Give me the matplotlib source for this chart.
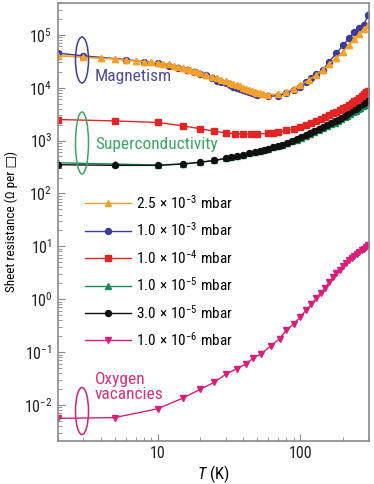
import numpy as np
import matplotlib
matplotlib.use('Agg')
import matplotlib.pyplot as plt
from matplotlib import font_manager
from matplotlib.patches import Ellipse
from matplotlib.ticker import LogLocator, NullFormatter, FixedLocator

# 2.5e-3 mbar
T_orange = [2, 3, 4, 5, 6, 7, 8, 9, 10, 11, 12, 13, 14, 15, 16, 17, 18, 19, 20, 22, 24, 26, 28, 30,
            32, 34, 36, 38, 40, 42, 44, 46, 48, 50, 52, 55, 60, 70, 80, 90, 100, 115, 130, 145,
            160, 180, 200, 220, 240, 260, 280, 300]
R_orange = [4.0e4, 3.8e4, 3.6e4, 3.5e4, 3.3e4, 3.2e4, 3.1e4, 3.0e4, 2.95e4, 2.85e4, 2.75e4, 2.6e4,
            2.5e4, 2.35e4, 2.25e4, 2.15e4, 2.05e4, 1.95e4, 1.9e4, 1.75e4, 1.6e4, 1.5e4, 1.4e4, 1.32e4,
            1.25e4, 1.18e4, 1.12e4, 1.06e4, 1.0e4, 9.5e3, 9.0e3, 8.6e3, 8.3e3, 8.0e3, 7.8e3, 7.6e3,
            7.4e3, 7.5e3, 8.2e3, 9.5e3, 1.1e4, 1.4e4, 1.75e4, 2.2e4, 2.8e4, 3.7e4, 4.8e4, 6.5e4,
            8.2e4, 1.05e5, 1.3e5, 1.55e5]

# 1.0e-3 mbar
T_blue = [2, 3, 6, 8, 10, 12, 14, 16, 18, 20, 22, 24, 26, 28, 30, 32, 34, 36, 38, 40, 42, 44, 46,
          48, 50, 60, 70, 80, 90, 100, 110, 120, 130, 145, 160, 180, 200, 220, 240, 260, 280, 300]
R_blue = [4.5e4, 4.0e4, 3.4e4, 3.1e4, 2.9e4, 2.6e4, 2.4e4, 2.2e4, 2.0e4, 1.85e4, 1.7e4, 1.5e4,
          1.35e4, 1.28e4, 1.2e4, 1.12e4, 1.05e4, 1.0e4, 9.5e3, 9.0e3, 8.6e3, 8.2e3, 7.9e3, 7.6e3,
          7.4e3, 6.9e3, 7.0e3, 7.9e3, 9.0e3, 1.05e4, 1.3e4, 1.55e4, 1.8e4, 2.2e4, 3.1e4, 4.5e4,
          6.3e4, 8.5e4, 1.15e5, 1.35e5, 1.55e5, 2.4e5]

# 1.0e-4 mbar
T_red = [2, 5, 10, 15, 20, 25, 30, 35, 40, 45, 50, 60, 65, 70, 80, 90, 100, 110, 120, 130, 140,
         150, 160, 170, 180, 190, 200, 210, 220, 230, 240, 250, 260, 270, 280, 290, 300]
R_red = [2.5e3, 2.35e3, 2.2e3, 1.9e3, 1.67e3, 1.5e3, 1.4e3, 1.35e3, 1.33e3, 1.32e3, 1.32e3, 1.38e3,
         1.4e3, 1.45e3, 1.55e3, 1.65e3, 1.8e3, 1.95e3, 2.15e3, 2.35e3, 2.55e3, 2.75e3, 3.0e3,
         3.25e3, 3.5e3, 3.8e3, 4.1e3, 4.4e3, 4.8e3, 5.1e3, 5.5e3, 5.9e3, 6.4e3, 6.9e3, 7.5e3,
         8.1e3, 8.8e3]

# 1.0e-5 mbar and 3.0e-5 mbar
T_low = [2, 5, 10, 15, 20, 25, 30, 33, 36, 40, 44, 48, 52, 56, 60, 65, 70, 75, 81, 88, 95, 102,
         110, 118, 126, 135, 145, 155, 165, 175, 185, 195, 205, 215, 225, 235, 245, 255, 265, 275,
         285, 295, 300]
R_green = [3.8e2, 3.6e2, 3.45e2, 3.6e2, 3.9e2, 4.2e2, 4.6e2, 4.8e2, 5.0e2, 5.4e2, 5.8e2, 6.1e2,
           6.4e2, 6.7e2, 7.0e2, 7.4e2, 7.9e2, 8.4e2, 9.0e2, 9.7e2, 1.04e3, 1.12e3, 1.23e3, 1.35e3,
           1.46e3, 1.58e3, 1.72e3, 1.87e3, 2.03e3, 2.17e3, 2.35e3, 2.52e3, 2.75e3, 2.95e3, 3.15e3,
           3.4e3, 3.65e3, 3.9e3, 4.15e3, 4.45e3, 4.75e3, 5.1e3, 5.3e3]
R_black = [3.5e2, 3.4e2, 3.4e2, 3.6e2, 3.9e2, 4.2e2, 4.6e2, 4.8e2, 5.0e2, 5.4e2, 5.8e2, 6.1e2,
           6.4e2, 6.7e2, 7.0e2, 7.4e2, 7.9e2, 8.4e2, 9.0e2, 9.8e2, 1.06e3, 1.15e3, 1.27e3, 1.4e3,
           1.52e3, 1.65e3, 1.8e3, 1.97e3, 2.15e3, 2.3e3, 2.5e3, 2.7e3, 2.95e3, 3.2e3, 3.45e3,
           3.7e3, 4.0e3, 4.3e3, 4.6e3, 4.95e3, 5.3e3, 5.7e3, 5.9e3]

# 1.0e-6 mbar
T_mag = [2, 5, 10, 15, 20, 25, 30, 36, 42, 47, 53, 62, 72, 80, 90, 100, 110, 120, 130, 140, 150,
         160, 170, 180, 190, 200, 210, 220, 230, 240, 250, 260, 270, 280, 290, 300]
R_mag = [5.6e-3, 5.8e-3, 8.5e-3, 1.35e-2, 2.0e-2, 2.7e-2, 3.8e-2, 4.9e-2, 6.0e-2, 7.8e-2, 9.2e-2,
         0.13, 0.18, 0.26, 0.34, 0.46, 0.62, 0.8, 1.05, 1.3, 1.65, 2.1, 2.6, 3.1, 3.6, 4.2, 4.8,
         5.5, 6.1, 6.7, 7.3, 7.9, 8.5, 9.1, 9.7, 10.5]

labels = [r'2.5$\,\times\,$10$^{-3}$ mbar', r'1.0$\,\times\,$10$^{-3}$ mbar',
          r'1.0$\,\times\,$10$^{-4}$ mbar', r'1.0$\,\times\,$10$^{-5}$ mbar',
          r'3.0$\,\times\,$10$^{-5}$ mbar', r'1.0$\,\times\,$10$^{-6}$ mbar']

c_orange = '#f5a02a'
c_blue = '#3b3b98'
c_red = '#e32424'
c_green = '#188a55'
c_black = '#111111'
c_mag = '#d81e78'

# condensed sans like the original, with fallbacks
installed = set(f.name for f in font_manager.fontManager.ttflist)
font = next((n for n in ['Roboto Condensed', 'PT Sans Narrow', 'Archivo Narrow', 'Liberation Sans']
             if n in installed), 'DejaVu Sans')
plt.rcParams['font.family'] = [font, 'DejaVu Sans']
plt.rcParams['mathtext.fontset'] = 'custom'
plt.rcParams['mathtext.rm'] = font
plt.rcParams['mathtext.it'] = font + ':italic'

fig = plt.figure(figsize=(3.74, 4.84), dpi=100)
ax = fig.add_axes([0.155, 0.089, 0.832, 0.905])

ms = 4.3
h_or, = ax.plot(T_orange, R_orange, '-^', color=c_orange, ms=ms, lw=1)
h_bl, = ax.plot(T_blue, R_blue, '-o', color=c_blue, ms=ms, lw=1)
h_gr, = ax.plot(T_low, R_green, '-^', color=c_green, ms=ms, lw=1)
h_bk, = ax.plot(T_low, R_black, '-o', color=c_black, ms=ms, lw=1)
h_rd, = ax.plot(T_red, R_red, '-s', color=c_red, ms=ms, lw=1)
h_mg, = ax.plot(T_mag, R_mag, '-v', color=c_mag, ms=ms, lw=1)
# orange drawn again so it sits over blue like in the original
ax.plot(T_orange, R_orange, '-^', color=c_orange, ms=ms, lw=1, zorder=2.5)

ax.set_xscale('log')
ax.set_yscale('log')
ax.set_xlim(2, 305)
ax.set_ylim(2.1e-3, 4e5)

ax.xaxis.set_major_locator(FixedLocator([10, 100]))
ax.set_xticklabels(['10', '100'])
ax.xaxis.set_minor_locator(LogLocator(base=10, subs=np.arange(2, 10)))
ax.xaxis.set_minor_formatter(NullFormatter())
ax.yaxis.set_major_locator(FixedLocator([1e-2, 1e-1, 1, 1e1, 1e2, 1e3, 1e4, 1e5]))
ax.yaxis.set_minor_locator(LogLocator(base=10, subs=np.arange(2, 10), numticks=20))
ax.yaxis.set_minor_formatter(NullFormatter())
ax.tick_params(which='both', direction='in', top=False, right=False, labelsize=11.5,
               labelcolor='#222222')
ax.tick_params(which='major', length=5, color='#888888', pad=4)
ax.tick_params(which='minor', length=3, color='#888888')
for s in ax.spines.values():
    s.set_color('#8a8a8a')
    s.set_linewidth(1.2)

ax.set_xlabel(r'$T$ (K)', fontsize=12, labelpad=1)
ax.set_ylabel('Sheet resistance (\u03a9 per \u25a1)', fontsize=9.5, labelpad=4)

leg = ax.legend([h_or, h_bl, h_rd, h_gr, h_bk, h_mg], labels, loc='upper left',
                bbox_to_anchor=(0.068, 0.578), frameon=False, fontsize=11,
                handlelength=3.0, handletextpad=0.3, labelspacing=0.62, borderaxespad=0)

# annotations with ellipses
fig.patches.append(Ellipse((82 / 374, 1 - 60 / 484), 13 / 374, 46 / 484,
                           transform=fig.transFigure, fill=False, ec=c_blue, lw=1.1))
fig.patches.append(Ellipse((82 / 374, 1 - 143 / 484), 13 / 374, 62 / 484,
                           transform=fig.transFigure, fill=False, ec='#3aa860', lw=1.1))
fig.patches.append(Ellipse((82 / 374, 1 - 411 / 484), 13 / 374, 47 / 484,
                           transform=fig.transFigure, fill=False, ec=c_mag, lw=1.1))

fig.text(95 / 374, 1 - 76 / 484, 'Magnetism', color='#4b4b9e', fontsize=12.5, va='center')
fig.text(95 / 374, 1 - 145 / 484, 'Superconductivity', color='#3aa860', fontsize=12.5, va='center')
fig.text(95 / 374, 1 - 387 / 484, 'Oxygen\nvacancies', color='#d8307a', fontsize=12.5,
         va='center', linespacing=1.05)

fig.savefig('out.png', dpi=100)
